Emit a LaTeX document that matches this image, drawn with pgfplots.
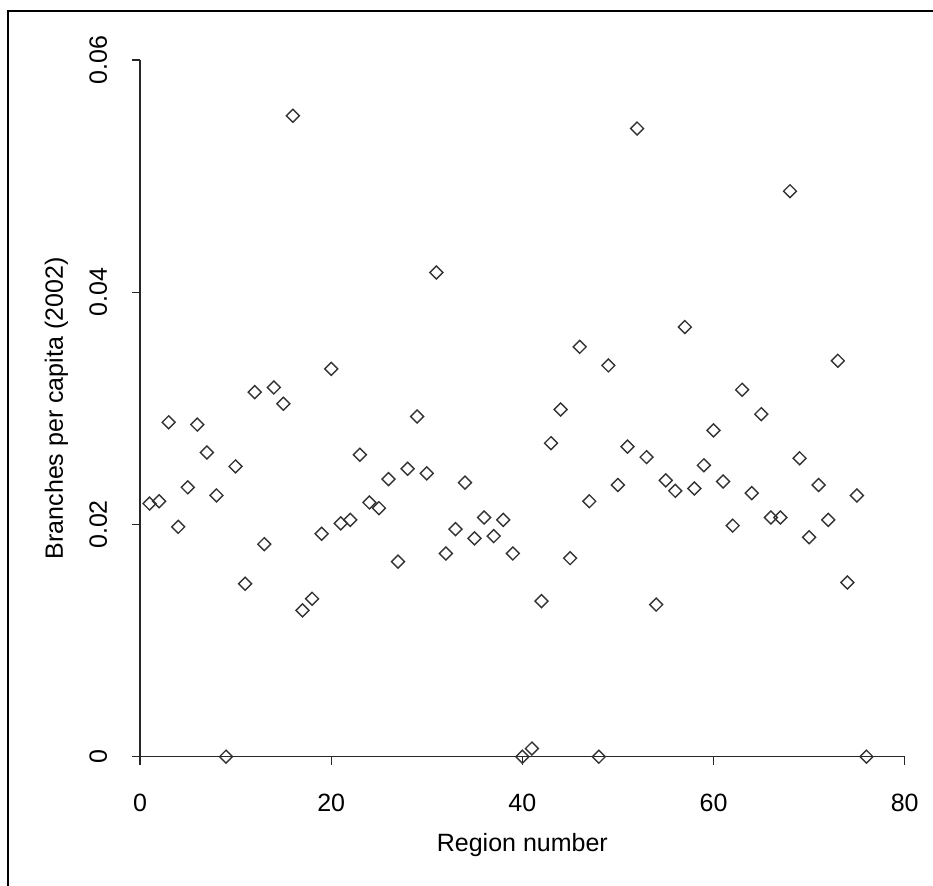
\documentclass[border=0pt]{standalone}
\usepackage{fontspec}
\setmainfont{Liberation Sans}
\usepackage{pgfplots}
\pgfplotsset{compat=1.18}

\pgfplotstableread{
x y
1 0.0218
2 0.0220
3 0.0288
4 0.0198
5 0.0232
6 0.0286
7 0.0262
8 0.0225
9 0
10 0.0250
11 0.0149
12 0.0314
13 0.0183
14 0.0318
15 0.0304
16 0.0552
17 0.0126
18 0.0136
19 0.0192
20 0.0334
21 0.0201
22 0.0204
23 0.0260
24 0.0219
25 0.0214
26 0.0239
27 0.0168
28 0.0248
29 0.0293
30 0.0244
31 0.0417
32 0.0175
33 0.0196
34 0.0236
35 0.0188
36 0.0206
37 0.0190
38 0.0204
39 0.0175
40 0
41 0.0007
42 0.0134
43 0.0270
44 0.0299
45 0.0171
46 0.0353
47 0.0220
48 0
49 0.0337
50 0.0234
51 0.0267
52 0.0541
53 0.0258
54 0.0131
55 0.0238
56 0.0229
57 0.0370
58 0.0231
59 0.0251
60 0.0281
61 0.0237
62 0.0199
63 0.0316
64 0.0227
65 0.0295
66 0.0206
67 0.0206
68 0.0487
69 0.0257
70 0.0189
71 0.0234
72 0.0204
73 0.0341
74 0.0150
75 0.0225
76 0
}\regions

\begin{document}
\begin{tikzpicture}
    % page = 933 x 886 px at 0.36pt per px, axis corner at px (140, 756.7)
    \useasboundingbox (-50.4pt,-46.55pt) rectangle (285.48pt,272.41pt);
    \begin{axis}[
        at={(0pt,0pt)},
        anchor=south west,
        scale only axis,
        width=275.3pt,
        height=250.8pt,
        xmin=0, xmax=80,
        ymin=0, ymax=0.06,
        axis x line=bottom,
        axis y line=left,
        axis line style={-, black!85, line width=0.45pt},
        tick align=outside,
        major tick length=2.9pt,
        tick style={black!85, line width=0.45pt},
        xtick={0,20,40,60,80},
        ytick={0,0.02,0.04,0.06},
        scaled y ticks=false,
        /pgf/number format/assume math mode=true,
        tick label style={font=\fontsize{9}{11}\selectfont},
        xticklabel style={anchor=base, yshift=-17pt},
        yticklabel style={/pgf/number format/fixed, /pgf/number format/precision=2,
            xshift=-9pt, rotate=90, anchor=base},
        xlabel={Region number},
        ylabel={Branches per capita (2002)},
        every axis x label/.style={at={(axis description cs:0.5,-0.1354)}, anchor=base,
            font=\fontsize{9}{11}\selectfont},
        every axis y label/.style={at={(axis description cs:-0.101,0.5)}, rotate=90, anchor=base,
            font=\fontsize{9}{11}\selectfont},
        clip=false
    ]
        \addplot[
            only marks,
            mark=square,
            mark size=1.65pt,
            mark options={rotate=45, draw=black!80, fill=white, line width=0.5pt}
        ] table[x=x, y=y] {\regions};
    \end{axis}
    \draw[line width=0.75pt] (-47.5pt,-46.55pt) -- (-47.5pt,268.4pt) -- (285.48pt,268.4pt);
\end{tikzpicture}
\end{document}
